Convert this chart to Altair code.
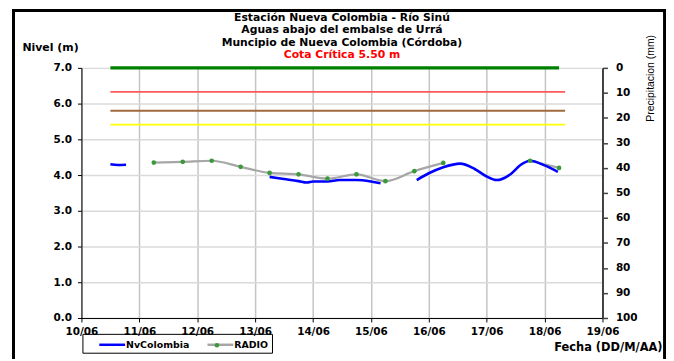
import altair as alt
import pandas as pd

# ---------------- data ----------------
nv_time = [
    "2024-06-10T12:00", "2024-06-10T15:00", "2024-06-10T18:30",
    "2024-06-13T06:00", "2024-06-13T12:00", "2024-06-13T18:00", "2024-06-13T21:30",
    "2024-06-14T00:00", "2024-06-14T06:00", "2024-06-14T11:00", "2024-06-14T18:00",
    "2024-06-15T00:00", "2024-06-15T04:00",
    "2024-06-15T19:00", "2024-06-16T00:00", "2024-06-16T06:00", "2024-06-16T13:00",
    "2024-06-16T19:00", "2024-06-17T00:00", "2024-06-17T04:00", "2024-06-17T10:00",
    "2024-06-17T14:00", "2024-06-17T18:00", "2024-06-18T00:00", "2024-06-18T05:30",
]
nv_level = [
    4.30, 4.28, 4.29,
    3.95, 3.89, 3.83, 3.79,
    3.82, 3.82, 3.86, 3.86,
    3.82, 3.77,
    3.86, 4.05, 4.22, 4.32,
    4.17, 3.96, 3.86, 4.03,
    4.28, 4.40, 4.27, 4.09,
]
nv_seg = [1] * 3 + [2] * 10 + [3] * 12

radio_time = [
    "2024-06-11T06:00", "2024-06-11T18:00", "2024-06-12T06:00", "2024-06-12T18:00",
    "2024-06-13T06:00", "2024-06-13T18:00", "2024-06-14T06:00", "2024-06-14T18:00",
    "2024-06-15T06:00", "2024-06-15T18:00", "2024-06-16T06:00",
    "2024-06-17T18:00", "2024-06-18T06:00",
]
radio_level = [4.35, 4.37, 4.40, 4.23, 4.06, 4.02, 3.90, 4.02, 3.83, 4.11, 4.34, 4.40, 4.20]
radio_seg = [1] * 11 + [2] * 2

thr_value = [7.0, 6.33, 5.80, 5.41]
thr_start = ["2024-06-10T12:00"] * 4
thr_end = ["2024-06-18T06:00", "2024-06-18T08:30", "2024-06-18T08:30", "2024-06-18T08:30"]

level_ticks = [0, 1, 2, 3, 4, 5, 6, 7]
precip_ticks = [0, 10, 20, 30, 40, 50, 60, 70, 80, 90, 100]

series_names = ["NvColombia", "RADIO"]

title_lines = [
    "Estación Nueva Colombia  - Río Sinú",
    "Aguas abajo del embalse de Urrá",
    "Muncipio de Nueva Colombia  (Córdoba)",
]
subtitle_text = "Cota Crítica 5.50 m"

# ---------------- styles ----------------
thr_colors = ["#008000", "#ff5a5a", "#a06a3c", "#ffff00"]
thr_widths = [3.5, 1.8, 1.8, 1.8]
FONT = "DejaVu Sans"

nv_df = pd.DataFrame({"t": nv_time, "level": nv_level, "seg": nv_seg, "series": "NvColombia"})
radio_df = pd.DataFrame({"t": radio_time, "level": radio_level, "seg": radio_seg,
                         "series": "RADIO", "marker": "RADIO"})
thr_df = pd.DataFrame({"start": thr_start, "end": thr_end, "value": thr_value})
precip_df = pd.DataFrame({"p": precip_ticks})

x_scale = alt.Scale(
    domain=[alt.DateTime(year=2024, month=6, date=10), alt.DateTime(year=2024, month=6, date=19)],
    nice=False,
)
y_scale = alt.Scale(domain=[0, 7], nice=False, zero=False)

x_axis = alt.Axis(
    format="%d/%m",
    tickCount=alt.TimeIntervalStep(interval="day", step=1),
    title="Fecha (DD/M/AA)",
    titleX=585, titleY=30, titleAlign="right", titleBaseline="middle", titleFontSize=11.5,
    grid=True, gridColor="#c4c4c4", gridWidth=1.5,
    domainColor="#000000", tickColor="#000000", tickSize=4,
    labelPadding=5, labelFlush=False, labelOverlap=False,
)
y_axis = alt.Axis(
    format=".1f", values=level_ticks,
    title="Nivel (m)",
    titleAngle=0, titleX=-60, titleY=-21, titleAlign="left", titleBaseline="middle",
    grid=True, gridColor="#dadada", gridWidth=1.5,
    domainColor="#000000", tickColor="#000000", tickSize=4, labelPadding=6,
    labelFlush=False, labelOverlap=False,
)

color_scale = alt.Scale(domain=series_names, range=["#0000ff", "#a6a6a6"])
legend = alt.Legend(
    orient="none", legendX=1, legendY=268, direction="horizontal", title=None,
    symbolType="M-2,0H2", symbolSize=169, symbolStrokeWidth=2.5, symbolOffset=19,
    labelFont=FONT, labelFontSize=9.5, labelFontWeight="bold", labelColor="#000000",
    strokeColor="#000000", padding=3, columnPadding=4, labelOffset=6,
)
dot_legend = alt.Legend(
    orient="none", legendX=134, legendY=277, title=None,
    symbolType="circle", symbolSize=22, symbolStrokeWidth=0,
    labelExpr="''", labelFontSize=1, labelOffset=0, padding=0,
)

layers = []
for i in range(len(thr_value)):
    layers.append(
        alt.Chart(thr_df.iloc[[i]]).mark_rule(color=thr_colors[i], strokeWidth=thr_widths[i]).encode(
            x=alt.X("start:T", scale=x_scale, axis=x_axis),
            x2="end:T",
            y=alt.Y("value:Q", scale=y_scale, axis=y_axis),
        )
    )

radio_line = alt.Chart(radio_df).mark_line(strokeWidth=2.2, interpolate="monotone").encode(
    x=alt.X("t:T", scale=x_scale, axis=x_axis),
    y=alt.Y("level:Q", scale=y_scale, axis=y_axis),
    color=alt.Color("series:N", scale=color_scale, legend=legend),
    detail="seg:N",
)
radio_pts = alt.Chart(radio_df).mark_circle(size=22, opacity=1).encode(
    x=alt.X("t:T", scale=x_scale, axis=x_axis),
    y=alt.Y("level:Q", scale=y_scale, axis=y_axis),
    fill=alt.Fill("marker:N", scale=alt.Scale(domain=["RADIO"], range=["#3a9a3a"]), legend=dot_legend),
)
nv_line = alt.Chart(nv_df).mark_line(strokeWidth=2.6, interpolate="monotone").encode(
    x=alt.X("t:T", scale=x_scale, axis=x_axis),
    y=alt.Y("level:Q", scale=y_scale, axis=y_axis),
    color=alt.Color("series:N", scale=color_scale, legend=legend),
    detail="seg:N",
)

frame = alt.Chart(precip_df).mark_rect(fill=None, stroke="#000000", strokeWidth=2.5).encode(
    x=alt.value(-68.5), x2=alt.value(588), y=alt.value(-57.8), y2=alt.value(320),
)

level_layer = alt.layer(*layers, radio_line, nv_line, radio_pts, frame)

precip_layer = alt.Chart(precip_df).mark_point(opacity=0).encode(
    y=alt.Y(
        "p:Q",
        scale=alt.Scale(domain=[0, 100], reverse=True, nice=False),
        axis=alt.Axis(
            orient="right", values=precip_ticks, title="Precipitacion (mm)",
            titleAngle=270, titleX=48, titleY=10, titleAlign="center", titleBaseline="middle",
            titleFont="Liberation Sans", titleFontSize=10.5, titleFontWeight="normal",
            domainColor="#404040", domainWidth=2, tickColor="#404040", tickWidth=1.5,
            tickSize=5, labelPadding=8, grid=False, labelFlush=False, labelOverlap=False,
        ),
    ),
)

chart = (
    alt.layer(level_layer, precip_layer)
    .resolve_scale(y="independent")
    .properties(
        width=525, height=252,
        padding={"left": 74, "top": 59, "right": 64, "bottom": 40},
        autosize=alt.AutoSizeParams(type="none"),
        title=alt.TitleParams(
            text=title_lines, subtitle=subtitle_text,
            font=FONT, fontSize=10.9, fontWeight="bold", color="#000000", lineHeight=12.6,
            subtitleFont=FONT, subtitleFontSize=10.9, subtitleFontWeight="bold",
            subtitleColor="#ff0000", subtitlePadding=1.5, anchor="middle", frame="group",
            offset=-51,
        ),
    )
    .configure_axis(
        labelFont=FONT, labelFontSize=10.5, labelFontWeight="bold", labelColor="#000000",
        titleFont=FONT, titleFontSize=11, titleFontWeight="bold", titleColor="#000000",
    )
    .configure_view(stroke=None)
)

chart.save("out.html", embed_options={"renderer": "svg", "actions": False})
